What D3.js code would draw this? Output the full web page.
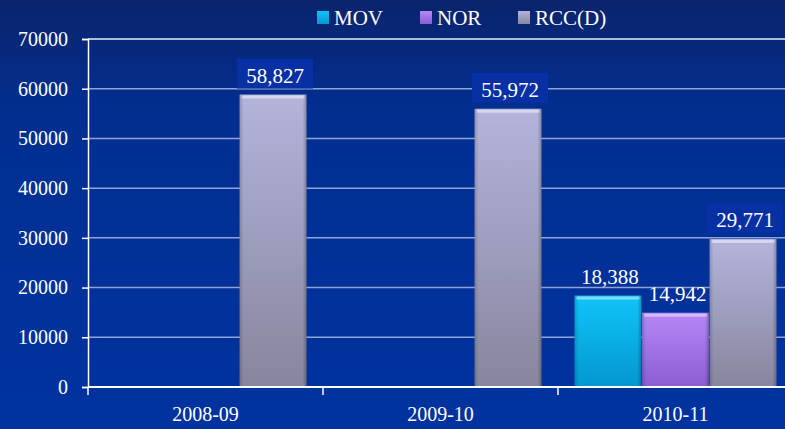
<!DOCTYPE html>
<html>
<head>
<meta charset="utf-8">
<script src="https://cdn.jsdelivr.net/npm/d3@7"></script>
<style>
  body { margin:0; background:#002a8a; }
  svg { display:block; }
</style>
</head>
<body>
<script>
// data
var categories = ["2008-09", "2009-10", "2010-11"];
var seriesNames = ["MOV", "NOR", "RCC(D)"];
var movValues = [null, null, 18388];
var norValues = [null, null, 14942];
var rccValues = [58827, 55972, 29771];
var yTicks = [0, 10000, 20000, 30000, 40000, 50000, 60000, 70000];

var w = 785, h = 429;
var margin = {left: 88, top: 39, right: -8, bottom: 42};

var svg = d3.select("body").append("svg")
  .attr("width", w)
  .attr("height", h);

var defs = svg.append("defs");

// background gradient
var bg = defs.append("linearGradient").attr("id", "bg")
  .attr("x1", 0).attr("y1", 0).attr("x2", 0).attr("y2", 1);
bg.append("stop").attr("offset", "0%").attr("stop-color", "#0a246c");
bg.append("stop").attr("offset", "25%").attr("stop-color", "#022e90");
bg.append("stop").attr("offset", "100%").attr("stop-color", "#0033a0");

// bar colours (top, bottom)
var barCols = [["#10c4f8", "#0496d0"], ["#b688f6", "#8c5cd2"], ["#b4b4dc", "#86869e"]];
barCols.forEach(function(c, i) {
  var g = defs.append("linearGradient").attr("id", "bar" + i)
    .attr("x1", 0).attr("y1", 0).attr("x2", 0).attr("y2", 1);
  g.append("stop").attr("offset", "0%").attr("stop-color", c[0]);
  g.append("stop").attr("offset", "100%").attr("stop-color", c[1]);
  var s = defs.append("linearGradient").attr("id", "side" + i)
    .attr("x1", 0).attr("y1", 0).attr("x2", 1).attr("y2", 0);
  s.append("stop").attr("offset", "0%").attr("stop-color", "#000").attr("stop-opacity", 0.18);
  s.append("stop").attr("offset", "6%").attr("stop-color", "#000").attr("stop-opacity", 0);
  s.append("stop").attr("offset", "94%").attr("stop-color", "#000").attr("stop-opacity", 0);
  s.append("stop").attr("offset", "100%").attr("stop-color", "#000").attr("stop-opacity", 0.25);
});

svg.append("rect").attr("width", w).attr("height", h).attr("fill", "url(#bg)");

var x0 = d3.scaleBand().domain(categories)
  .range([margin.left, w - margin.right]);
var x1 = d3.scaleBand().domain(seriesNames)
  .range([0, x0.bandwidth()]).paddingOuter(0.245).paddingInner(0.01);
var y = d3.scaleLinear().domain([0, 70000])
  .range([h - margin.bottom, margin.top]);

// gridlines
svg.append("g").selectAll("line")
  .data(yTicks.slice(1))
  .enter().append("line")
  .attr("x1", margin.left).attr("x2", w)
  .attr("y1", function(d) { return y(d); })
  .attr("y2", function(d) { return y(d); })
  .attr("stroke", function(d) { return d == 70000 ? "#e8eefa" : "#8ea4d8"; })
  .attr("stroke-width", 1.5);

// y axis
var yAxis = svg.append("g")
  .attr("transform", "translate(" + margin.left + ",0)")
  .call(d3.axisLeft(y).tickValues(yTicks).tickFormat(d3.format("d")).tickSize(6).tickPadding(14));
yAxis.select(".domain").attr("stroke", "#ffffff").attr("stroke-width", 1.5);
yAxis.selectAll(".tick line").attr("stroke", "#ffffff").attr("stroke-width", 1.5);
yAxis.selectAll("text")
  .attr("fill", "#ffffff")
  .attr("font-family", "Liberation Serif, serif")
  .attr("font-size", 20);

var series = [movValues, norValues, rccValues];
var bars = [];
series.forEach(function(vals, si) {
  vals.forEach(function(v, ci) {
    if (v != null) bars.push({s: si, c: ci, v: v});
  });
});

var barG = svg.append("g");
var bx = function(d) { return x0(categories[d.c]) + x1(seriesNames[d.s]); };

barG.selectAll("rect.bar")
  .data(bars).enter().append("rect")
  .attr("class", "bar")
  .attr("x", bx)
  .attr("y", function(d) { return y(d.v); })
  .attr("width", x1.bandwidth())
  .attr("height", function(d) { return y(0) - y(d.v); })
  .attr("fill", function(d) { return "url(#bar" + d.s + ")"; });

barG.selectAll("rect.side")
  .data(bars).enter().append("rect")
  .attr("x", bx)
  .attr("y", function(d) { return y(d.v); })
  .attr("width", x1.bandwidth())
  .attr("height", function(d) { return y(0) - y(d.v); })
  .attr("fill", function(d) { return "url(#side" + d.s + ")"; });

// bevel highlight on top
barG.selectAll("rect.top")
  .data(bars).enter().append("rect")
  .attr("x", function(d) { return bx(d) + 2; })
  .attr("y", function(d) { return y(d.v) + 1; })
  .attr("width", x1.bandwidth() - 4)
  .attr("height", 3)
  .attr("fill", "#ffffff")
  .attr("opacity", 0.45);

// x axis
svg.append("line")
  .attr("x1", margin.left).attr("x2", w)
  .attr("y1", y(0)).attr("y2", y(0))
  .attr("stroke", "#ffffff").attr("stroke-width", 2);
svg.append("g").selectAll("line")
  .data(categories).enter().append("line")
  .attr("x1", function(d) { return x0(d); })
  .attr("x2", function(d) { return x0(d); })
  .attr("y1", y(0)).attr("y2", y(0) + 8)
  .attr("stroke", "#ffffff").attr("stroke-width", 1.5);
svg.append("g").selectAll("text")
  .data(categories).enter().append("text")
  .text(function(d) { return d; })
  .attr("x", function(d) { return x0(d) + x0.bandwidth() / 2; })
  .attr("y", y(0) + 34)
  .attr("text-anchor", "middle")
  .attr("font-family", "Liberation Serif, serif")
  .attr("font-size", 20)
  .attr("fill", "#ffffff");

// value labels
var fmt = d3.format(",");
var lab = svg.append("g").selectAll("g")
  .data(bars).enter().append("g")
  .attr("transform", function(d) {
    return "translate(" + (bx(d) + x1.bandwidth() / 2 + 2) + "," + (y(d.v) - 12) + ")";
  });
lab.filter(function(d) { return d.s == 2; })
  .append("rect")
  .attr("x", -38).attr("y", -24).attr("width", 76).attr("height", 30)
  .attr("fill", "#0630a4");
lab.append("text")
  .text(function(d) { return fmt(d.v); })
  .attr("text-anchor", "middle")
  .attr("font-family", "Liberation Serif, serif")
  .attr("font-size", 21)
  .attr("fill", "#ffffff");

// legend
var legX = [317, 420, 518];
var leg = svg.append("g").selectAll("g")
  .data(seriesNames).enter().append("g")
  .attr("transform", function(d, i) { return "translate(" + legX[i] + ",0)"; });
leg.append("rect")
  .attr("x", 0).attr("y", 11).attr("width", 12).attr("height", 13)
  .attr("fill", function(d, i) { return "url(#bar" + i + ")"; });
leg.append("text")
  .text(function(d) { return d; })
  .attr("x", 17).attr("y", 25)
  .attr("font-family", "Liberation Serif, serif")
  .attr("font-size", 21)
  .attr("fill", "#ffffff");
</script>
</body>
</html>
